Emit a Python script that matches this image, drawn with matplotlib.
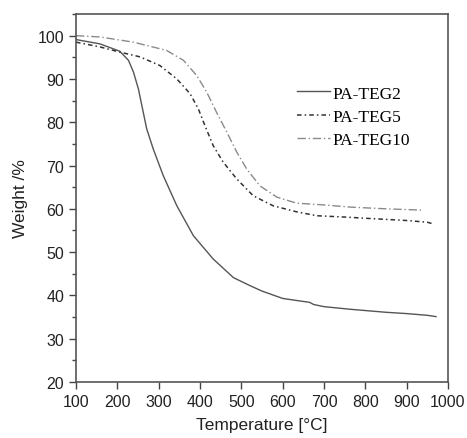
import matplotlib
matplotlib.use("Agg")
import matplotlib.pyplot as plt
from matplotlib.ticker import MultipleLocator

# TGA curves, temperature in °C, residual weight in %
temp_teg2 = [100, 158, 206, 227, 239, 251, 261, 271, 287, 311, 344, 384, 432, 481, 520,
             550, 600, 650, 665, 675, 700, 763, 850, 900, 950, 971]
weight_teg2 = [99.1, 98.1, 96.4, 94.3, 91.6, 87.7, 83.1, 78.5, 73.8, 67.7, 60.7, 53.8, 48.4, 44.1, 42.3,
               41.0, 39.3, 38.6, 38.4, 37.9, 37.4, 36.8, 36.1, 35.8, 35.4, 35.1]

temp_teg5 = [100, 158, 206, 255, 303, 344, 376, 396, 412, 432, 456, 489, 529, 577,
             634, 683, 750, 804, 900, 950, 965]
weight_teg5 = [98.5, 97.4, 96.2, 95.1, 93.1, 90.0, 86.6, 83.1, 79.2, 74.6, 70.8, 66.9, 63.0, 60.7,
               59.3, 58.4, 58.1, 57.8, 57.3, 56.9, 56.5]

temp_teg10 = [100, 158, 239, 319, 360, 392, 416, 440, 465, 489, 513, 545, 586, 634,
              700, 763, 850, 937]
weight_teg10 = [100.0, 99.7, 98.5, 96.6, 94.3, 90.8, 87.0, 82.3, 77.7, 73.1, 69.2, 65.3, 62.7, 61.3,
                60.9, 60.4, 60.0, 59.7]

labels = ["PA-TEG2", "PA-TEG5", "PA-TEG10"]

plt.rcParams["font.family"] = ["Liberation Sans", "DejaVu Sans"]

fig = plt.figure(figsize=(4.67, 4.39), dpi=100)
ax = fig.add_axes([0.1627, 0.1276, 0.7966, 0.8382])

ax.plot(temp_teg2, weight_teg2, color="#555555", lw=1.0, ls="-", label=labels[0])
ax.plot(temp_teg5, weight_teg5, color="#333333", lw=1.1, ls=(0, (3, 2, 1, 2)), label=labels[1])
ax.plot(temp_teg10, weight_teg10, color="#8a8a8a", lw=1.0, ls=(0, (6, 2, 1, 2)), label=labels[2])

ax.set_xlim(100, 1000)
ax.set_ylim(20, 105)
ax.xaxis.set_major_locator(MultipleLocator(100))
ax.yaxis.set_minor_locator(MultipleLocator(5))
ax.set_yticks(range(20, 101, 10))
ax.tick_params(axis="both", which="major", direction="out", length=5, width=1,
               labelsize=11.5, color="#444444", labelcolor="#222222")
ax.tick_params(axis="y", which="minor", direction="out", length=3, width=1, color="#444444")

for side in ax.spines.values():
    side.set_color("#555555")
    side.set_linewidth(1.2)

ax.set_xlabel("Temperature [°C]", fontsize=12.5, color="#222222", labelpad=6)
ax.set_ylabel("Weight /%", fontsize=12.5, color="#222222", labelpad=7)

ax.legend(loc="upper left", bbox_to_anchor=(0.594, 0.806), frameon=False,
          borderpad=0, borderaxespad=0, handlelength=1.9, handletextpad=0.17,
          labelspacing=0.4, prop={"family": "Liberation Serif", "size": 12.5})

fig.savefig("out.png", dpi=100)
